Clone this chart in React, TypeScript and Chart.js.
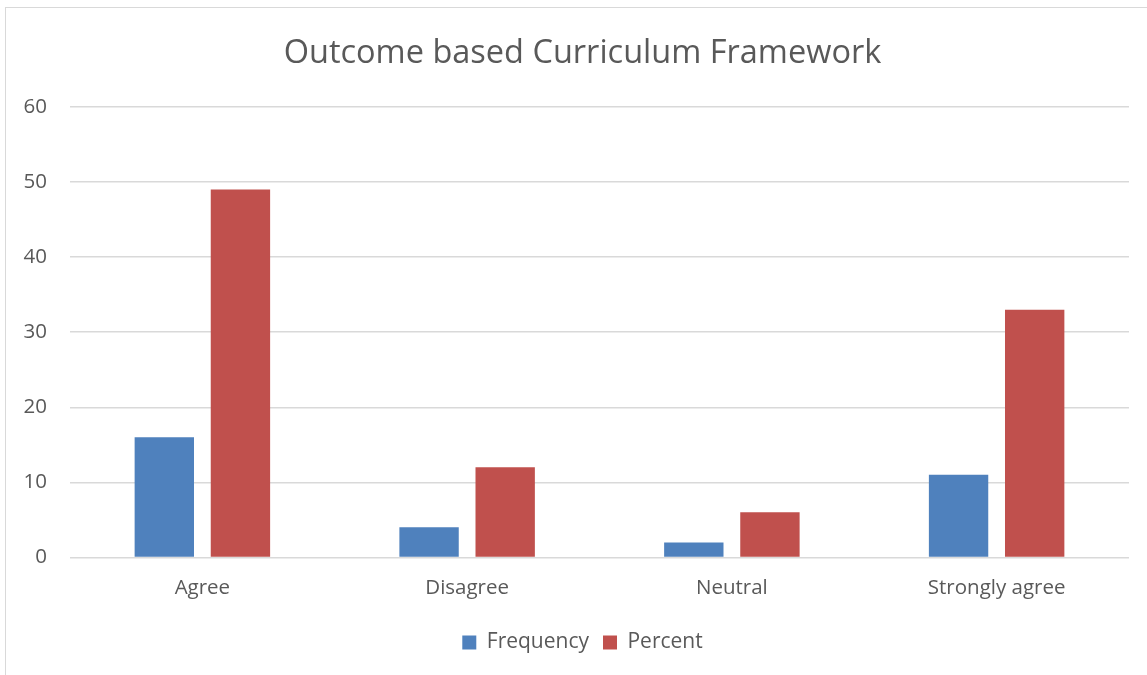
import React, { useEffect, useRef } from "react";
import { Chart, registerables } from "chart.js";

Chart.register(...registerables);

const categories = ["Agree", "Disagree", "Neutral", "Strongly agree"];
const frequency = [16, 4, 2, 11];
const percent = [49, 12, 6, 33];
const yTicks = [0, 10, 20, 30, 40, 50, 60];

const FONT = "'Open Sans', sans-serif";
const TEXT = "#595959";

export default function App() {
  const ref = useRef<HTMLCanvasElement>(null);
  useEffect(() => {
    if (!ref.current) return;
    const chart = new Chart(ref.current, {
      type: "bar",
      data: {
        labels: categories,
        datasets: [
          { label: "Frequency", data: frequency, backgroundColor: "#4F81BD", borderWidth: 0 },
          { label: "Percent", data: percent, backgroundColor: "#C0504D", borderWidth: 0 },
        ],
      },
      options: {
        animation: false,
        responsive: false,
        datasets: { bar: { categoryPercentage: 0.575, barPercentage: 0.78 } },
        layout: { padding: { left: 0, right: 0, top: 0, bottom: 12 } },
        plugins: {
          title: {
            display: true,
            text: "Outcome based Curriculum Framework",
            color: TEXT,
            font: { family: FONT, size: 32.5, weight: "normal" },
            padding: { top: 34, bottom: 34 },
          },
          legend: {
            position: "bottom",
            labels: {
              color: TEXT,
              font: { family: FONT, size: 21 },
              boxWidth: 14,
              boxHeight: 14,
              padding: 14,
            },
          },
          tooltip: { enabled: false },
        },
        scales: {
          x: {
            grid: { display: false, drawTicks: false },
            border: { display: false },
            ticks: { color: TEXT, font: { family: FONT, size: 20.5 }, padding: 18 },
          },
          y: {
            min: 0,
            max: 60,
            afterFit: (s: any) => { s.width = 70; },
            afterBuildTicks: (s: any) => { s.ticks = yTicks.map((v) => ({ value: v })); },
            grid: { color: "#d9d9d9", lineWidth: 1.5, drawTicks: false },
            border: { display: false },
            ticks: { color: TEXT, font: { family: FONT, size: 20.5 }, padding: 23 },
          },
          yRight: {
            position: "right",
            min: 0,
            max: 60,
            afterFit: (s: any) => { s.width = 36; },
            grid: { display: false, drawTicks: false },
            border: { display: false },
            ticks: { display: false },
          },
        },
      },
    });
    return () => chart.destroy();
  }, []);
  return (
    <div style={{ position: "fixed", left: 0, top: 0, width: 1147, height: 675, background: "#fff", overflow: "hidden" }}>
      <div style={{ position: "absolute", left: 5, top: 7, width: 1200, height: 700, borderLeft: "1.5px solid #d9d9d9", borderTop: "1.5px solid #d9d9d9" }} />
      <canvas ref={ref} width={1165} height={675} style={{ position: "absolute", left: 0, top: 0 }} />
    </div>
  );
}
